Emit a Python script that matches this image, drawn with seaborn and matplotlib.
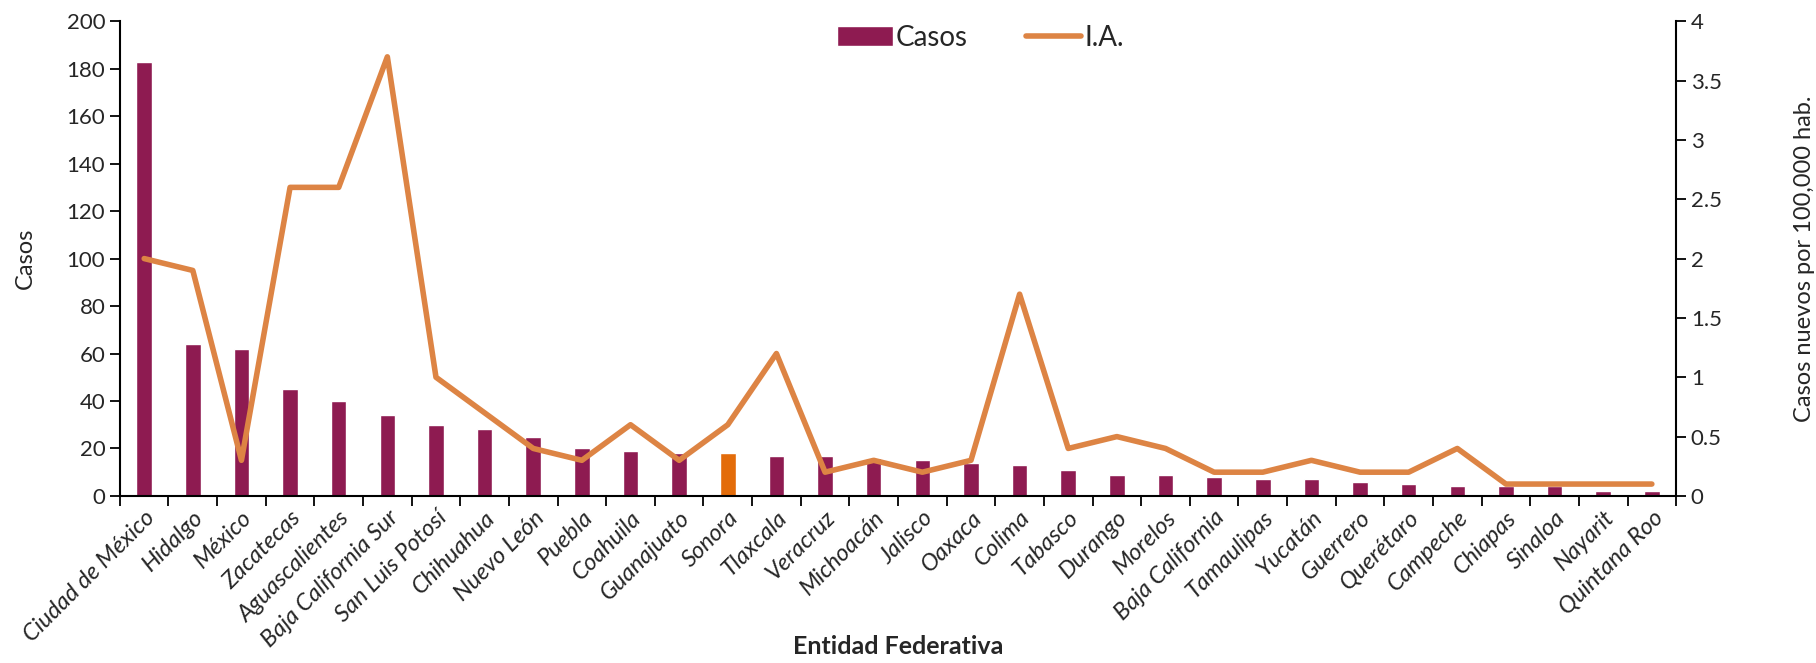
import numpy as np
import pandas as pd
import matplotlib.pyplot as plt
import seaborn as sns
from matplotlib.patches import Patch
from matplotlib.lines import Line2D
from matplotlib.ticker import FixedLocator

estados = ['Ciudad de México', 'Hidalgo', 'México', 'Zacatecas', 'Aguascalientes',
           'Baja California Sur', 'San Luis Potosí', 'Chihuahua', 'Nuevo León', 'Puebla',
           'Coahuila', 'Guanajuato', 'Sonora', 'Tlaxcala', 'Veracruz', 'Michoacán',
           'Jalisco', 'Oaxaca', 'Colima', 'Tabasco', 'Durango', 'Morelos',
           'Baja California', 'Tamaulipas', 'Yucatán', 'Guerrero', 'Querétaro',
           'Campeche', 'Chiapas', 'Sinaloa', 'Nayarit', 'Quintana Roo']
casos = [183, 64, 62, 45, 40, 34, 30, 28, 25, 20, 19, 18, 18, 17, 17, 16,
         15, 14, 13, 11, 9, 9, 8, 7, 7, 6, 5, 4, 4, 4, 2, 2]
ia = [2.0, 1.9, 0.3, 2.6, 2.6, 3.7, 1.0, 0.7, 0.4, 0.3, 0.6, 0.3, 0.6, 1.2,
      0.2, 0.3, 0.2, 0.3, 1.7, 0.4, 0.5, 0.4, 0.2, 0.2, 0.3, 0.2, 0.2, 0.4,
      0.1, 0.1, 0.1, 0.1]
destacado = 'Sonora'
ticks_izq = [0, 20, 40, 60, 80, 100, 120, 140, 160, 180, 200]
ticks_der = [0, 0.5, 1, 1.5, 2, 2.5, 3, 3.5, 4]
etiq_der = ['0', '0.5', '1', '1.5', '2', '2.5', '3', '3.5', '4']

df = pd.DataFrame({'estado': estados, 'casos': casos, 'ia': ia})
df['pos'] = np.arange(len(df))

c_bar = '#8E1B51'
c_hi = '#E36C0A'
c_line = '#DD8444'

sns.set_style('white')
plt.rcParams['font.family'] = ['Lato', 'DejaVu Sans']

fig = plt.figure(figsize=(18.16, 6.63), dpi=100)
ax = fig.add_axes([0.066, 0.252, 0.857, 0.716])

pal = {e: (c_hi if e == destacado else c_bar) for e in estados}
sns.barplot(data=df, x='estado', y='casos', hue='estado', palette=pal,
            legend=False, width=0.32, saturation=1, ax=ax)

ax2 = ax.twinx()
sns.lineplot(data=df, x='pos', y='ia', color=c_line, lw=4.0, ax=ax2)

n = len(df)
ax.set_xlim(-0.5, n - 0.5)
ax2.set_xlim(-0.5, n - 0.5)
ax.set_ylim(0, 200)
ax2.set_ylim(0, 4)
ax.set_yticks(ticks_izq)
ax2.set_yticks(ticks_der)
ax2.set_yticklabels(etiq_der)

ax.set_xticks(range(n))
ax.set_xticklabels(estados, rotation=45, ha='right', rotation_mode='anchor',
                   fontsize=17, style='italic')
ax.xaxis.set_minor_locator(FixedLocator(np.arange(-0.5, n, 1)))
ax.tick_params(axis='x', which='major', bottom=True, length=0, pad=8)
ax.tick_params(axis='x', which='minor', bottom=True, length=7, width=1.3,
               direction='out', color='black')
ax.tick_params(axis='y', left=True, length=7, width=1.3, direction='out',
               labelsize=16, color='black')
ax2.tick_params(axis='y', right=True, length=7, width=1.3, direction='out',
                labelsize=16, color='black')
ax2.tick_params(axis='x', which='both', length=0, labelbottom=False)

for a in (ax, ax2):
    for s in a.spines.values():
        s.set_visible(False)
for s in (ax.spines['left'], ax.spines['bottom'], ax2.spines['right']):
    s.set_visible(True)
    s.set_color('black')
    s.set_linewidth(1.5)

ax.set_xlabel('Entidad Federativa', fontsize=18, fontweight='bold', va='center')
ax.xaxis.set_label_coords(0.5, -0.318)
ax.set_ylabel('Casos', fontsize=17, labelpad=22)
ax2.set_xlabel('')
ax2.set_ylabel('Casos nuevos por 100,000 hab.', fontsize=17, labelpad=52)
ax.grid(False)
ax2.grid(False)

handles = [Patch(facecolor=c_bar, label='Casos'),
           Line2D([0], [0], color=c_line, lw=4.0, label='I.A.')]
ax.legend(handles=handles, loc='upper center', bbox_to_anchor=(0.553, 1.045),
          ncol=2, frameon=False, fontsize=20, columnspacing=2.1,
          handlelength=2.0, handletextpad=0.1)

fig.savefig('out.png', dpi=100)
